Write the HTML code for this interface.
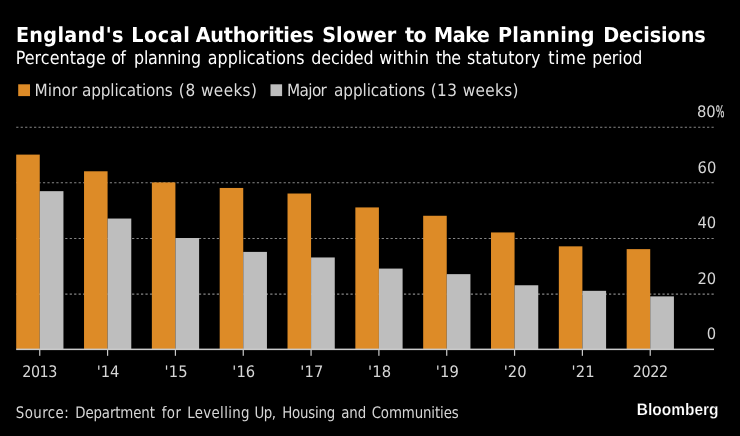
<!DOCTYPE html>
<html lang="en">
<head>
<meta charset="utf-8">
<title>England's Local Authorities Slower to Make Planning Decisions</title>
<style>
html,body{margin:0;padding:0;background:#000;}
body{width:740px;height:436px;overflow:hidden;}
svg{display:block;}
text{font-family:'DejaVu Sans Condensed','DejaVu Sans','Liberation Sans',sans-serif;font-stretch:condensed;fill:#fff;white-space:pre;text-rendering:geometricPrecision;}
.title{font-weight:bold;font-size:20.7px;}
.sub{font-size:18.1px;}
.leg{font-size:16.9px;fill:#dcdcdc;}
.ax{font-size:15.9px;fill:#d6d6d6;}
.src{font-size:15.9px;fill:#d6d6d6;}
.logo{font-family:"Liberation Sans",sans-serif;font-stretch:normal;font-weight:bold;font-size:16.6px;stroke:#000;stroke-width:0.22px;}
</style>
</head>
<body>
<svg width="740" height="436" viewBox="0 0 740 436">
<rect width="740" height="436" fill="#000"/>
<text class="title" y="42.1" transform="scale(1.0308,1)"><tspan x="15.43" style="letter-spacing:0.33px">England's</tspan> <tspan x="127.39" style="letter-spacing:0.52px">Local</tspan> <tspan x="189.92" style="letter-spacing:-0.26px">Authorities</tspan> <tspan x="312.50" style="letter-spacing:0.06px">Slower</tspan> <tspan x="392.90" style="letter-spacing:-0.60px">to</tspan> <tspan x="421.04" style="letter-spacing:-0.44px">Make</tspan> <tspan x="483.13" style="letter-spacing:0.24px">Planning</tspan> <tspan x="585.18" style="letter-spacing:-0.08px">Decisions</tspan></text>
<text class="sub" y="63.9" transform="scale(0.9763,1)"><tspan x="16.09" style="letter-spacing:0.09px">Percentage</tspan> <tspan x="113.90" style="letter-spacing:-0.60px">of</tspan> <tspan x="137.38" style="letter-spacing:-0.31px">planning</tspan> <tspan x="212.76" style="letter-spacing:0.07px">applications</tspan> <tspan x="318.89" style="letter-spacing:-0.12px">decided</tspan> <tspan x="388.38" style="letter-spacing:0.35px">within</tspan> <tspan x="446.61" style="letter-spacing:-0.60px">the</tspan> <tspan x="478.24" style="letter-spacing:0.15px">statutory</tspan> <tspan x="561.55" style="letter-spacing:0.66px">time</tspan> <tspan x="606.51" style="letter-spacing:-0.07px">period</tspan></text>
<rect x="18.2" y="84.3" width="11.8" height="11.8" fill="#dd8b27"/>
<text class="leg" y="95.9" transform="scale(1.0050,1)"><tspan x="34.28" style="letter-spacing:0.02px">Minor</tspan> <tspan x="81.49" style="letter-spacing:-0.12px">applications</tspan> <tspan x="177.96" style="letter-spacing:0.80px">(8</tspan> <tspan x="200.03" style="letter-spacing:0.36px">weeks)</tspan></text>
<rect x="270.5" y="84.3" width="11.6" height="11.8" fill="#bebebe"/>
<text class="leg" y="95.9" transform="scale(1.0050,1)"><tspan x="285.49" style="letter-spacing:-0.60px">Major</tspan> <tspan x="332.43" style="letter-spacing:-0.10px">applications</tspan> <tspan x="428.68" style="letter-spacing:0.32px">(13</tspan> <tspan x="460.33" style="letter-spacing:0.36px">weeks)</tspan></text>
<line x1="16.2" x2="713.75" y1="127.30" y2="127.30" stroke="#868686" stroke-width="1.05" stroke-dasharray="2.23 2.227"/>
<line x1="16.2" x2="713.75" y1="182.80" y2="182.80" stroke="#868686" stroke-width="1.05" stroke-dasharray="2.23 2.227"/>
<line x1="16.2" x2="713.75" y1="238.50" y2="238.50" stroke="#868686" stroke-width="1.05" stroke-dasharray="2.23 2.227"/>
<line x1="16.2" x2="713.75" y1="294.10" y2="294.10" stroke="#868686" stroke-width="1.05" stroke-dasharray="2.23 2.227"/>
<text class="ax" y="117.1" transform="scale(1.0300,1)"><tspan x="676.69">80</tspan><tspan x="694.95" textLength="8.48" lengthAdjust="spacingAndGlyphs" style="stroke:#d6d6d6;stroke-width:0.3px">%</tspan></text>
<text class="ax" y="172.5" transform="scale(1.0300,1)"><tspan x="677.27">60</tspan></text>
<text class="ax" y="228.0" transform="scale(1.0300,1)"><tspan x="677.08">40</tspan></text>
<text class="ax" y="284.4" transform="scale(1.0300,1)"><tspan x="677.08">20</tspan></text>
<text class="ax" y="338.7" transform="scale(1.0300,1)"><tspan x="686.27">0</tspan></text>
<rect x="16.20" y="154.60" width="23.55" height="194.80" fill="#dd8b27"/>
<rect x="39.75" y="191.16" width="23.7" height="158.24" fill="#bebebe"/>
<rect x="84.03" y="171.28" width="23.55" height="178.12" fill="#dd8b27"/>
<rect x="107.58" y="218.54" width="23.7" height="130.86" fill="#bebebe"/>
<rect x="151.86" y="182.40" width="23.55" height="167.00" fill="#dd8b27"/>
<rect x="175.41" y="238.00" width="23.7" height="111.40" fill="#bebebe"/>
<rect x="219.69" y="187.96" width="23.55" height="161.44" fill="#dd8b27"/>
<rect x="243.24" y="251.90" width="23.7" height="97.50" fill="#bebebe"/>
<rect x="287.52" y="193.52" width="23.55" height="155.88" fill="#dd8b27"/>
<rect x="311.07" y="257.46" width="23.7" height="91.94" fill="#bebebe"/>
<rect x="355.35" y="207.42" width="23.55" height="141.98" fill="#dd8b27"/>
<rect x="378.90" y="268.58" width="23.7" height="80.82" fill="#bebebe"/>
<rect x="423.18" y="215.76" width="23.55" height="133.64" fill="#dd8b27"/>
<rect x="446.73" y="274.14" width="23.7" height="75.26" fill="#bebebe"/>
<rect x="491.01" y="232.44" width="23.55" height="116.96" fill="#dd8b27"/>
<rect x="514.56" y="285.26" width="23.7" height="64.14" fill="#bebebe"/>
<rect x="558.84" y="246.34" width="23.55" height="103.06" fill="#dd8b27"/>
<rect x="582.39" y="290.82" width="23.7" height="58.58" fill="#bebebe"/>
<rect x="626.67" y="249.12" width="23.55" height="100.28" fill="#dd8b27"/>
<rect x="650.22" y="296.38" width="23.7" height="53.02" fill="#bebebe"/>
<rect x="16.2" y="348.6" width="697.8" height="1.5" fill="#cacaca"/>
<rect x="39.15" y="349.5" width="1.2" height="6.3" fill="#cacaca"/>
<text class="ax" y="377.0"><tspan x="22.21" style="letter-spacing:-0.39px">2013</tspan></text>
<rect x="106.98" y="349.5" width="1.2" height="6.3" fill="#cacaca"/>
<text class="ax" y="377.0" transform="scale(1.0300,1)"><tspan x="93.89" style="letter-spacing:-0.06px">'14</tspan></text>
<rect x="174.81" y="349.5" width="1.2" height="6.3" fill="#cacaca"/>
<text class="ax" y="377.0" transform="scale(1.0300,1)"><tspan x="159.75" style="letter-spacing:0.20px">'15</tspan></text>
<rect x="242.64" y="349.5" width="1.2" height="6.3" fill="#cacaca"/>
<text class="ax" y="377.0" transform="scale(1.0300,1)"><tspan x="225.60" style="letter-spacing:0.02px">'16</tspan></text>
<rect x="310.47" y="349.5" width="1.2" height="6.3" fill="#cacaca"/>
<text class="ax" y="377.0" transform="scale(1.0300,1)"><tspan x="291.46" style="letter-spacing:0.25px">'17</tspan></text>
<rect x="378.30" y="349.5" width="1.2" height="6.3" fill="#cacaca"/>
<text class="ax" y="377.0" transform="scale(1.0300,1)"><tspan x="357.31" style="letter-spacing:0.12px">'18</tspan></text>
<rect x="446.13" y="349.5" width="1.2" height="6.3" fill="#cacaca"/>
<text class="ax" y="377.0" transform="scale(1.0300,1)"><tspan x="423.17" style="letter-spacing:0.12px">'19</tspan></text>
<rect x="513.96" y="349.5" width="1.2" height="6.3" fill="#cacaca"/>
<text class="ax" y="377.0" transform="scale(1.0300,1)"><tspan x="489.02" style="letter-spacing:0.12px">'20</tspan></text>
<rect x="581.79" y="349.5" width="1.2" height="6.3" fill="#cacaca"/>
<text class="ax" y="377.0" transform="scale(1.0300,1)"><tspan x="554.87" style="letter-spacing:0.21px">'21</tspan></text>
<rect x="649.62" y="349.5" width="1.2" height="6.3" fill="#cacaca"/>
<text class="ax" y="377.0"><tspan x="632.68" style="letter-spacing:-0.30px">2022</tspan></text>
<text class="src" y="417.7" transform="scale(0.9350,1)"><tspan x="16.97" style="letter-spacing:0.45px">Source:</tspan> <tspan x="80.47" style="letter-spacing:-0.15px">Department</tspan> <tspan x="173.04" style="letter-spacing:0.39px">for</tspan> <tspan x="200.25" style="letter-spacing:0.35px">Levelling</tspan> <tspan x="272.29" style="letter-spacing:-0.60px">Up,</tspan> <tspan x="301.75" style="letter-spacing:-0.22px">Housing</tspan> <tspan x="364.89" style="letter-spacing:-0.10px">and</tspan> <tspan x="397.48" style="letter-spacing:-0.14px">Communities</tspan></text>
<text class="logo" x="636.8" y="414.9" textLength="81.7" lengthAdjust="spacingAndGlyphs">Bloomberg</text>
</svg>
</body>
</html>
